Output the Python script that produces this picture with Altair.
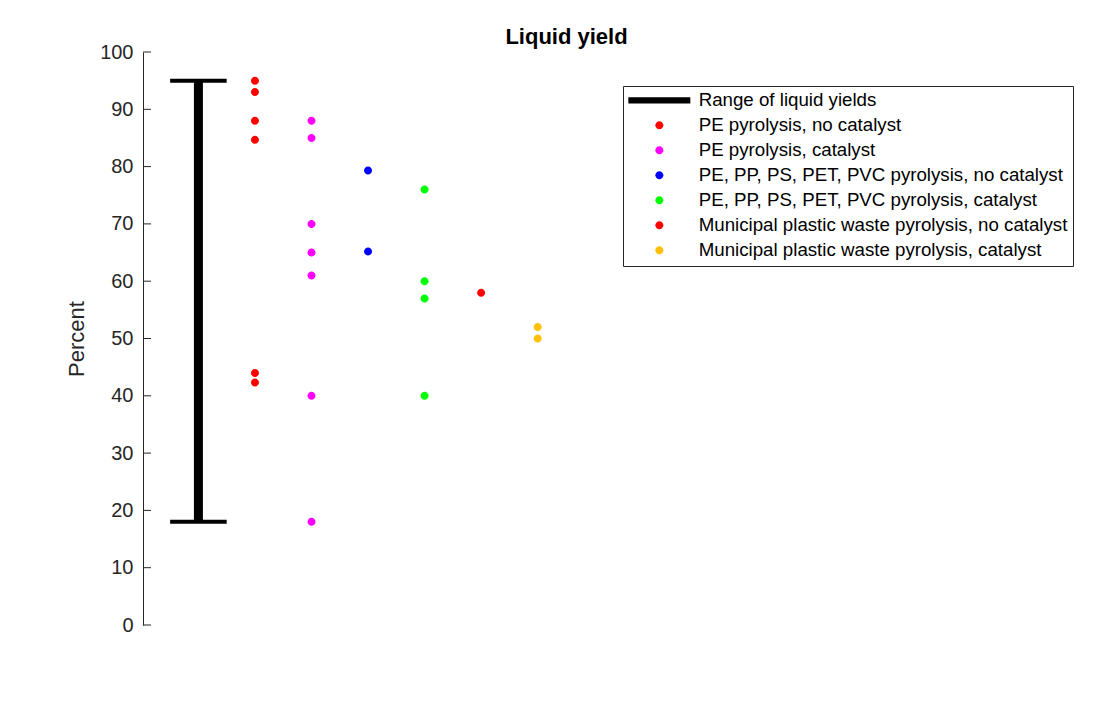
import altair as alt
import pandas as pd

# ---- data ----
series_labels = [
    "Range of liquid yields",
    "PE pyrolysis, no catalyst",
    "PE pyrolysis, catalyst",
    "PE, PP, PS, PET, PVC pyrolysis, no catalyst",
    "PE, PP, PS, PET, PVC pyrolysis, catalyst",
    "Municipal plastic waste pyrolysis, no catalyst",
    "Municipal plastic waste pyrolysis, catalyst",
]
series_colors = ["#000000", "#FF0000", "#FF00FF", "#0000FF", "#00FF00", "#FF0000", "#FFC000"]

range_x = 1
range_low = 18
range_high = 95

pe_nocat = [95, 93, 88, 84.7, 44, 42.3]
pe_cat = [88, 85, 70, 65, 61, 40, 18]
mix_nocat = [79.3, 65.2]
mix_cat = [76, 60, 57, 40]
mpw_nocat = [58]
mpw_cat = [52, 50]
series_x = [2, 3, 4, 5, 6, 7]
series_values = [pe_nocat, pe_cat, mix_nocat, mix_cat, mpw_nocat, mpw_cat]

y_ticks = list(range(0, 101, 10))

# ---- tables ----
rows = []
for lab, xv, vals in zip(series_labels[1:], series_x, series_values):
    for v in vals:
        rows.append({"x": xv, "y": v, "series": lab})
points_df = pd.DataFrame(rows)
stem_df = pd.DataFrame({"x": [range_x], "lo": [range_low], "hi": [range_high]})
cap_df = pd.DataFrame({"x1": [range_x - 0.5] * 2, "x2": [range_x + 0.5] * 2, "y": [range_low, range_high]})
ticks_df = pd.DataFrame({"y": y_ticks})

FONT = "Liberation Sans"
GREY = "#262626"

# symbol size 64 -> unit = 4 px
line_path = "M-7.75,-0.8H7.75V0.8H-7.75Z"
circle_path = "M1,0A1,1,0,1,1,-1,0A1,1,0,1,1,1,0Z"
shape_range = [line_path] + [circle_path] * 6

xscale = alt.Scale(domain=[0.02, 15], nice=False, zero=False)
yscale = alt.Scale(domain=[0, 100], nice=False)

yaxis = alt.Axis(
    values=y_ticks, tickSize=0, labelPadding=10, labelFontSize=20, labelFont=FONT,
    labelColor=GREY, domainColor=GREY, domainWidth=1, grid=False,
    title="Percent", titleFontSize=22, titleFont=FONT, titleFontWeight="normal",
    titleColor=GREY, titlePadding=11,
)

stem = alt.Chart(stem_df).mark_rule(color="black", strokeWidth=9).encode(
    x=alt.X("x:Q", scale=xscale, axis=None),
    y=alt.Y("lo:Q", scale=yscale, axis=yaxis),
    y2="hi:Q",
)
caps = alt.Chart(cap_df).mark_rule(color="black", strokeWidth=4).encode(
    x=alt.X("x1:Q", scale=xscale, axis=None),
    x2="x2:Q",
    y=alt.Y("y:Q", scale=yscale, axis=yaxis),
)
ticks = alt.Chart(ticks_df).mark_rule(color=GREY, strokeWidth=1).encode(
    x=alt.value(0), x2=alt.value(8),
    y=alt.Y("y:Q", scale=yscale, axis=yaxis),
)
pts = alt.Chart(points_df).mark_point(filled=True, size=64, opacity=1, strokeWidth=0).encode(
    x=alt.X("x:Q", scale=xscale, axis=None),
    y=alt.Y("y:Q", scale=yscale, axis=yaxis),
    color=alt.Color("series:N", scale=alt.Scale(domain=series_labels, range=series_colors),
                    legend=alt.Legend(title=None)),
    shape=alt.Shape("series:N", scale=alt.Scale(domain=series_labels, range=shape_range),
                    legend=alt.Legend(title=None)),
)

chart = alt.layer(stem, caps, ticks, pts).properties(
    width=847, height=573,
    autosize=alt.AutoSizeParams(type="none"),
    padding={"left": 135, "top": 44, "right": 90, "bottom": 60},
    title=alt.TitleParams("Liquid yield", fontSize=22, fontWeight="bold", font=FONT,
                          anchor="middle", color="black", offset=-7, frame="group"),
).configure_view(stroke=None).configure_legend(
    orient="none", legendX=480, legendY=34, padding=5,
    strokeColor=GREY, fillColor="white", strokeWidth=1,
    labelFontSize=18.7, labelFont=FONT, labelColor="black", labelLimit=0,
    symbolSize=64, symbolStrokeWidth=0, symbolOffset=22, rowPadding=5, labelOffset=30,
    symbolOpacity=1,
)

chart.save("out.html", embed_options={"renderer": "svg", "actions": False})
